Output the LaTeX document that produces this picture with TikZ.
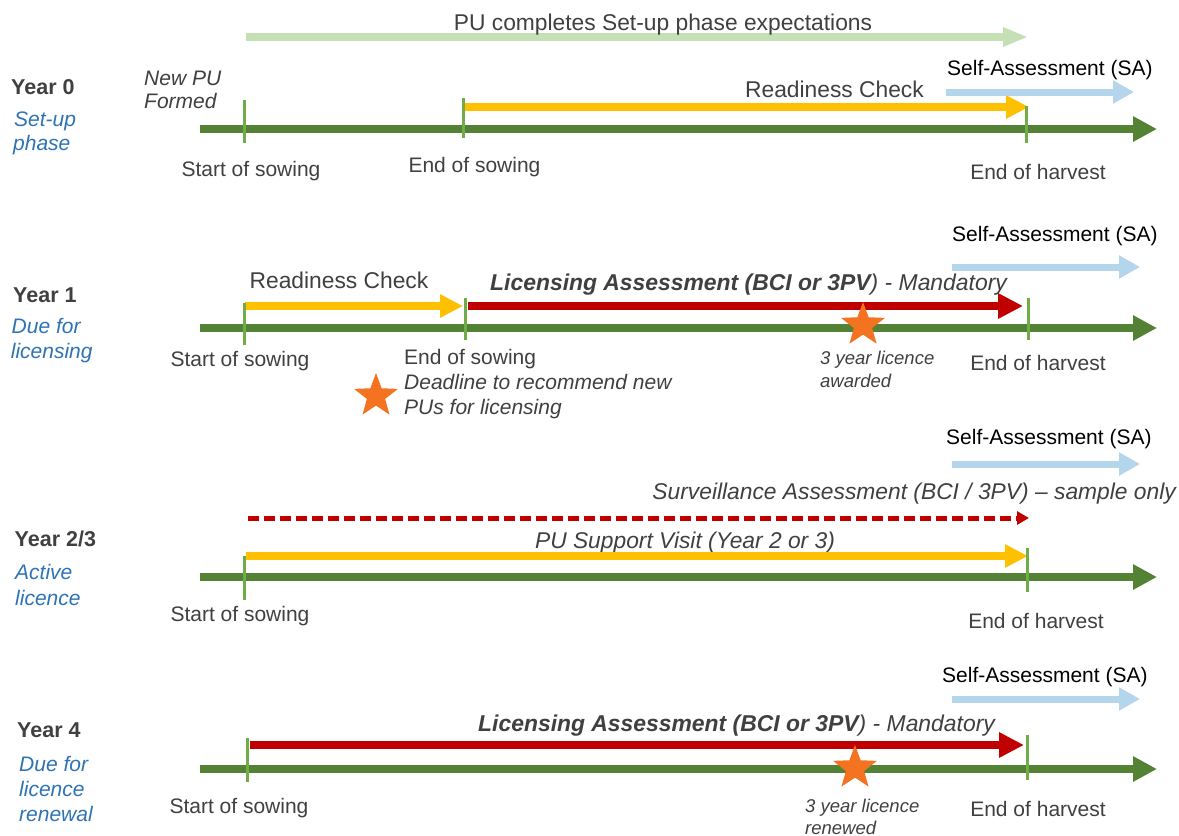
\documentclass[tikz,border=0pt]{standalone}
\usepackage{fontspec}
\setmainfont{Liberation Sans}
\usetikzlibrary{arrows.meta,shapes.geometric}
\definecolor{tgray}{HTML}{404040}
\definecolor{tblue}{HTML}{2E74B5}
\definecolor{tlgreen}{HTML}{548235}
\definecolor{tickgreen}{HTML}{70AD47}
\definecolor{paleg}{HTML}{C5E0B4}
\definecolor{yel}{HTML}{FFC000}
\definecolor{dred}{HTML}{C00000}
\definecolor{lblue}{HTML}{B4D5EC}
\definecolor{starorange}{HTML}{F47321}
\tikzset{
  lbl/.style={font=\fontsize{21}{25}\selectfont, text=tgray, inner sep=0pt},
  lblit/.style={font=\fontsize{21}{25}\selectfont\itshape, text=tgray, inner sep=0pt},
  biglbl/.style={font=\fontsize{22.8}{27}\selectfont, text=tgray, inner sep=0pt},
  bigit/.style={font=\fontsize{22.8}{27}\selectfont\itshape, text=tgray, inner sep=0pt},
  small/.style={font=\fontsize{18.5}{22}\selectfont\itshape, text=tgray, inner sep=0pt},
  yearlbl/.style={font=\fontsize{21.5}{25}\selectfont\bfseries, text=tgray, inner sep=0pt, anchor=base west},
  phaselbl/.style={font=\fontsize{21}{25}\selectfont\itshape, text=tblue, inner sep=0pt, anchor=base west},
  salbl/.style={font=\fontsize{21}{25}\selectfont, text=black, inner sep=0pt, anchor=base west},
  lic/.style={font=\fontsize{22.9}{27}\selectfont\itshape, text=tgray, inner sep=0pt, anchor=base west},
  timeline/.style={draw=tlgreen, line width=8pt, -{Triangle[length=24pt,width=24pt]}},
  tickmark/.style={draw=tickgreen, line width=3pt},
  yarrow/.style={draw=yel, line width=8pt, -{Triangle[length=23pt,width=22pt]}},
  rarrow/.style={draw=dred, line width=8pt, -{Triangle[length=25pt,width=24pt]}},
  saarrow/.style={draw=lblue, line width=7pt, -{Triangle[length=21pt,width=22pt]}},
  pgarrow/.style={draw=paleg, line width=8pt, -{Triangle[length=25pt,width=18pt]}},
  dasharrow/.style={draw=dred, line width=5pt, dash pattern=on 11pt off 5pt, -{Triangle[length=12pt,width=13pt]}},
  starmark/.style={star, star points=5, star point ratio=2.4, minimum size=46pt, inner sep=0pt, fill=starorange, draw=none}
}
\begin{document}
\begin{tikzpicture}[x=1pt,y=-1pt]
\useasboundingbox (0,0) rectangle (1179,836);
\fill[white] (0,0) rectangle (1179,836);

% ---------- Row 0 ----------
\coordinate (pgs) at (246,37); \coordinate (pge) at (1028,37);
\draw[pgarrow] (pgs) -- (pge);
\node[biglbl, anchor=base] (pgtext) at (663,30) {PU completes Set-up phase expectations};

\node[yearlbl] (y0) at (11,94) {Year 0};
\node[phaselbl] (y0a) at (14,126) {Set-up};
\node[phaselbl] (y0b) at (13,150) {phase};
\node[lblit, anchor=base west] (newpu) at (144,85) {New PU};
\node[lblit, anchor=base west] (formed) at (144,108) {Formed};

\coordinate (t0s) at (200,129); \coordinate (t0e) at (1157,129);
\draw[timeline] (t0s) -- (t0e);
\coordinate (r0ys) at (462,107); \coordinate (r0ye) at (1029,107);
\draw[yarrow] (r0ys) -- (r0ye);
\coordinate (sa0s) at (946,92); \coordinate (sa0e) at (1134,92);
\draw[saarrow] (sa0s) -- (sa0e);
\coordinate (k0a1) at (244,100); \coordinate (k0a2) at (244,143);
\coordinate (k0b1) at (463,98); \coordinate (k0b2) at (463,138);
\coordinate (k0c1) at (1026,106); \coordinate (k0c2) at (1026,143);
\draw[tickmark] (k0a1) -- (k0a2);
\draw[tickmark] (k0b1) -- (k0b2);
\draw[tickmark] (k0c1) -- (k0c2);
\node[biglbl, anchor=base] (rc0) at (834.5,97) {Readiness Check};
\node[salbl] (sa0) at (947,75) {Self-Assessment (SA)};
\node[lbl, anchor=base] (ss0) at (251,176) {Start of sowing};
\node[lbl, anchor=base] (es0) at (474.5,172) {End of sowing};
\node[lbl, anchor=base] (eh0) at (1038,179) {End of harvest};

% ---------- Row 1 ----------
\node[yearlbl] (y1) at (13,302) {Year 1};
\node[phaselbl] (y1a) at (11.5,333) {Due for};
\node[phaselbl] (y1b) at (10.7,358) {licensing};
\node[salbl] (sa1) at (952,241) {Self-Assessment (SA)};
\coordinate (sa1s) at (952,267); \coordinate (sa1e) at (1140,267);
\draw[saarrow] (sa1s) -- (sa1e);
\coordinate (t1s) at (200,328); \coordinate (t1e) at (1157,328);
\draw[timeline] (t1s) -- (t1e);
\coordinate (r1ys) at (245,306); \coordinate (r1ye) at (463,306);
\draw[yarrow] (r1ys) -- (r1ye);
\coordinate (r1rs) at (468,306); \coordinate (r1re) at (1023,306);
\draw[rarrow] (r1rs) -- (r1re);
\coordinate (k1a1) at (244,303); \coordinate (k1a2) at (244,345);
\coordinate (k1b1) at (465,298); \coordinate (k1b2) at (465,340);
\coordinate (k1c1) at (1028,298); \coordinate (k1c2) at (1028,340);
\draw[tickmark] (k1a1) -- (k1a2);
\draw[tickmark] (k1b1) -- (k1b2);
\draw[tickmark] (k1c1) -- (k1c2);
\node[biglbl, anchor=base] (rc1) at (339,288) {Readiness Check};
\node[lic] (lic1) at (490,290) {\bfseries Licensing Assessment (BCI or 3PV\mdseries) - Mandatory};
\node[starmark] (star1) at (863,325) {};
\node[small, anchor=base west] (aw1) at (820,364) {3 year licence};
\node[small, anchor=base west] (aw2) at (820,387) {awarded};
\node[lbl, anchor=base] (ss1) at (240,366) {Start of sowing};
\node[lbl, anchor=base west] (es1) at (404,364) {End of sowing};
\node[lblit, anchor=base west] (dl1) at (404,389) {Deadline to recommend new};
\node[lblit, anchor=base west] (dl2) at (404,414) {PUs for licensing};
\node[starmark] (star2) at (376,396) {};
\node[lbl, anchor=base] (eh1) at (1038,370) {End of harvest};

% ---------- Row 2/3 ----------
\node[yearlbl] (y2) at (14.5,546) {Year 2/3};
\node[phaselbl] (y2a) at (15,579) {Active};
\node[phaselbl] (y2b) at (15,605) {licence};
\node[salbl] (sa2) at (946,444) {Self-Assessment (SA)};
\coordinate (sa2s) at (952,464); \coordinate (sa2e) at (1140,464);
\draw[saarrow] (sa2s) -- (sa2e);
\node[bigit, anchor=base east] (surv) at (1176,499) {Surveillance Assessment (BCI / 3PV) – sample only};
\coordinate (dss) at (248,518); \coordinate (dse) at (1029,518);
\draw[dasharrow] (dss) -- (dse);
\node[bigit, anchor=base] (pusv) at (685,548) {PU Support Visit (Year 2 or 3)};
\coordinate (t2s) at (200,577); \coordinate (t2e) at (1157,577);
\draw[timeline] (t2s) -- (t2e);
\coordinate (r2ys) at (246,556); \coordinate (r2ye) at (1028,556);
\draw[yarrow] (r2ys) -- (r2ye);
\coordinate (k2a1) at (244,556); \coordinate (k2a2) at (244,600);
\coordinate (k2c1) at (1027,548); \coordinate (k2c2) at (1027,592);
\draw[tickmark] (k2a1) -- (k2a2);
\draw[tickmark] (k2c1) -- (k2c2);
\node[lbl, anchor=base] (ss2) at (240,621) {Start of sowing};
\node[lbl, anchor=base] (eh2) at (1036,628) {End of harvest};

% ---------- Row 4 ----------
\node[yearlbl] (y4) at (17,737) {Year 4};
\node[phaselbl] (y4a) at (19,771) {Due for};
\node[phaselbl] (y4b) at (19,796) {licence};
\node[phaselbl] (y4c) at (19,821) {renewal};
\node[salbl] (sa4) at (942,682) {Self-Assessment (SA)};
\coordinate (sa4s) at (952,699); \coordinate (sa4e) at (1140,699);
\draw[saarrow] (sa4s) -- (sa4e);
\node[lic] (lic4) at (478,731) {\bfseries Licensing Assessment (BCI or 3PV\mdseries) - Mandatory};
\coordinate (t4s) at (200,769); \coordinate (t4e) at (1157,769);
\draw[timeline] (t4s) -- (t4e);
\coordinate (r4rs) at (250,745); \coordinate (r4re) at (1024,745);
\draw[rarrow] (r4rs) -- (r4re);
\coordinate (k4a1) at (247,738); \coordinate (k4a2) at (247,782);
\coordinate (k4c1) at (1027,735); \coordinate (k4c2) at (1027,780);
\draw[tickmark] (k4a1) -- (k4a2);
\draw[tickmark] (k4c1) -- (k4c2);
\node[starmark] (star4) at (855,768) {};
\node[small, anchor=base west] (rn1) at (805,812) {3 year licence};
\node[small, anchor=base west] (rn2) at (805,834) {renewed};
\node[lbl, anchor=base] (ss4) at (239,813) {Start of sowing};
\node[lbl, anchor=base] (eh4) at (1038,816) {End of harvest};
\end{tikzpicture}
\end{document}
